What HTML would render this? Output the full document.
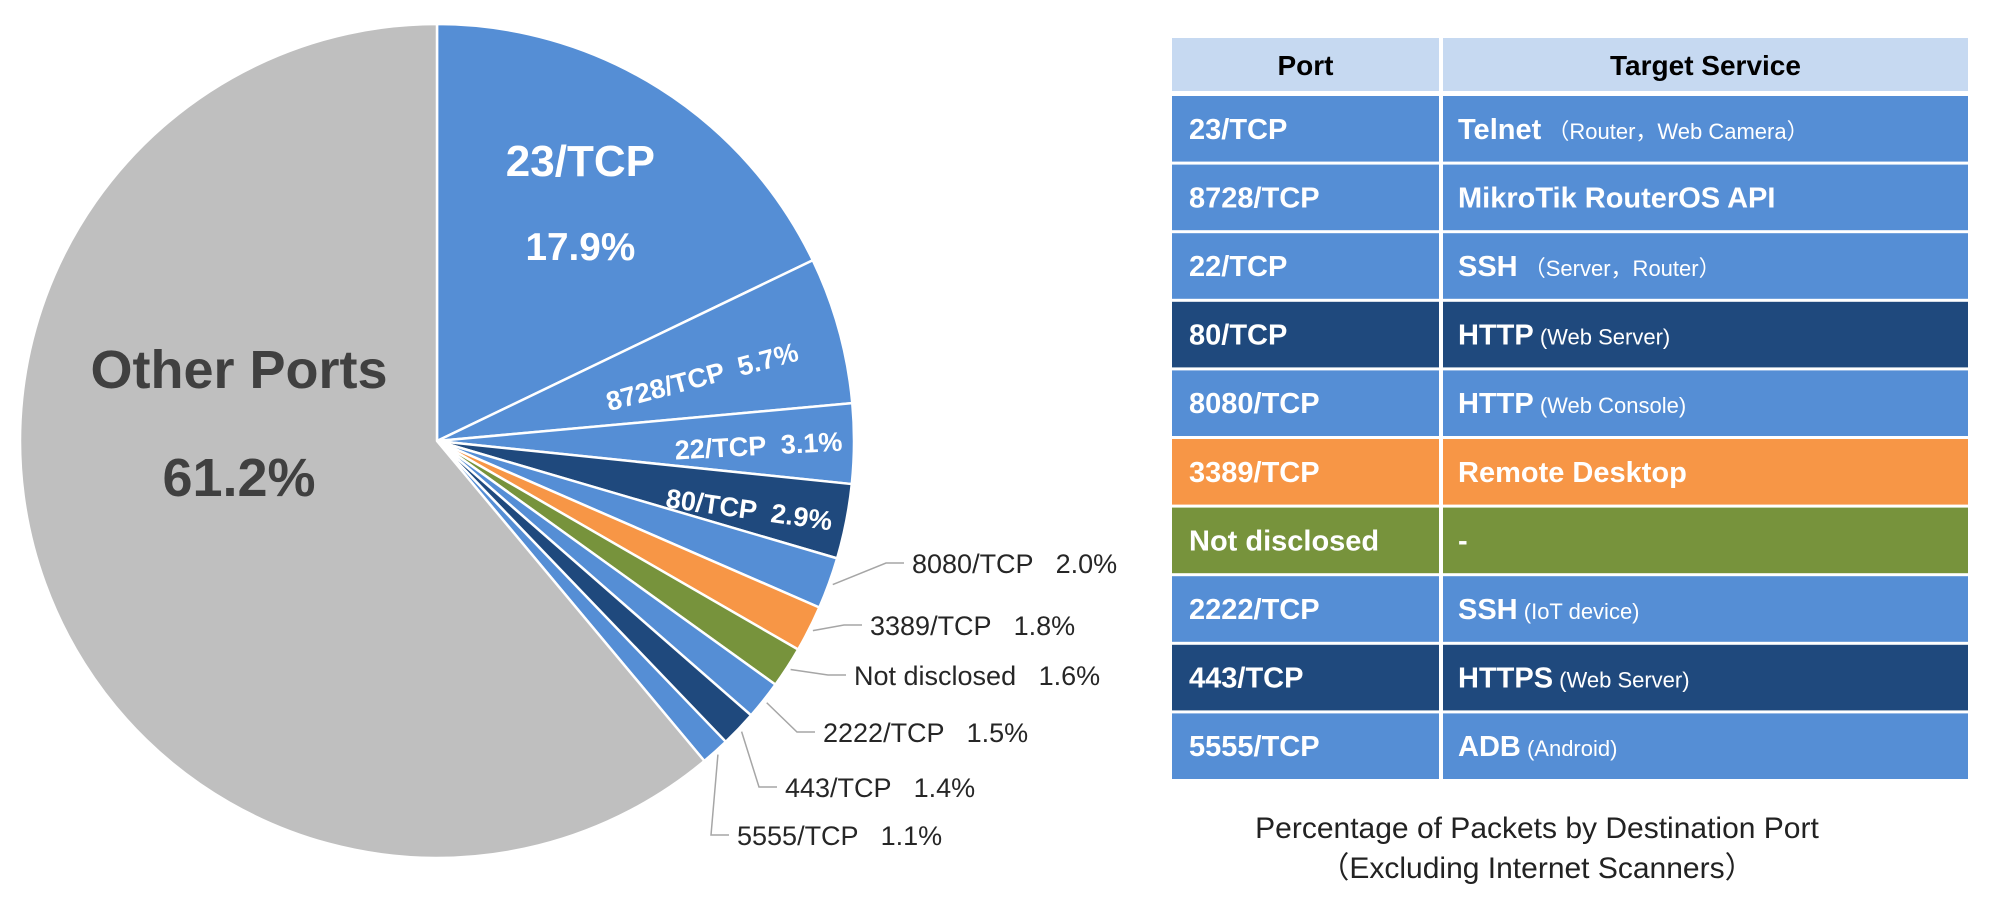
<!DOCTYPE html>
<html><head><meta charset="utf-8">
<style>
html,body{margin:0;padding:0;background:#fff;}
svg{display:block;font-family:"Liberation Sans","Noto Sans CJK JP",sans-serif;}
</style></head>
<body>
<svg id="chart" width="2000" height="909" viewBox="0 0 2000 909" xmlns="http://www.w3.org/2000/svg">
<g id="pie"></g>
<g id="labels"></g>
<g id="table"></g>
<g font-size="30" fill="#222" text-anchor="middle">
<text x="1537" y="838">Percentage of Packets by Destination Port</text>
<text x="1537" y="878">（Excluding Internet Scanners）</text>
</g>
</svg>
<script>
const categories = ["23/TCP","8728/TCP","22/TCP","80/TCP","8080/TCP","3389/TCP","Not disclosed","2222/TCP","443/TCP","5555/TCP","Other Ports"];
const values = [17.9,5.7,3.1,2.9,2.0,1.8,1.6,1.5,1.4,1.1,61.2];
const valueLabels = ["17.9%","5.7%","3.1%","2.9%","2.0%","1.8%","1.6%","1.5%","1.4%","1.1%","61.2%"];
const sliceColors = ["#558ED5","#558ED5","#558ED5","#1F497D","#558ED5","#F79646","#77933C","#558ED5","#1F497D","#558ED5","#BFBFBF"];
const servicesMain = ["Telnet","MikroTik RouterOS API","SSH","HTTP","HTTP","Remote Desktop","-","SSH","HTTPS","ADB"];
const servicesSub = ["（Router，Web Camera）","","（Server，Router）","(Web Server)","(Web Console)","","","(IoT device)","(Web Server)","(Android)"];

const NS="http://www.w3.org/2000/svg";
const cx=437, cy=441, R=417;
const total=values.reduce((a,b)=>a+b,0);
function angleOf(v){return v/total*Math.PI*2;}
function pt(a,r){return [cx+r*Math.sin(a), cy-r*Math.cos(a)];}
function mk(tag,parent){const e=document.createElementNS(NS,tag);parent.appendChild(e);return e;}

const pie=document.getElementById('pie');
const labels=document.getElementById('labels');
let acc=0;
const mids=[];
values.forEach((v,i)=>{
  const a0=acc, a1=acc+angleOf(v); acc=a1;
  mids.push((a0+a1)/2);
  const p0=pt(a0,R), p1=pt(a1,R);
  const large=(a1-a0)>Math.PI?1:0;
  const path=mk('path',pie);
  path.setAttribute('d',`M${cx},${cy} L${p0[0]},${p0[1]} A${R},${R} 0 ${large} 1 ${p1[0]},${p1[1]} Z`);
  path.setAttribute('fill',sliceColors[i]);
  path.setAttribute('stroke','#fff');
  path.setAttribute('stroke-width','2.5');
  path.setAttribute('stroke-linejoin','round');
  
  
});

function txt(parent,x,y,s,size,fill,weight,anchor,rot){
  const t=mk('text',parent);
  t.setAttribute('x',x);t.setAttribute('y',y);
  t.setAttribute('font-size',size);t.setAttribute('fill',fill);
  t.setAttribute('font-weight',weight);t.setAttribute('text-anchor',anchor||'start');
  if(rot)t.setAttribute('transform',`rotate(${rot} ${x} ${y})`);
  t.textContent=s;return t;
}
function inside(i,r,dx,dy,size,rot,two,gap){
  const p=pt(mids[i],r);
  if(two){
    const a=txt(labels,p[0]+dx,p[1]+dy,categories[i],size,'#fff','bold','middle');
    
    
    const b=txt(labels,p[0]+dx,p[1]+dy+gap,valueLabels[i],size*0.88,'#fff','bold','middle');
    
    
  } else {
    const a=txt(labels,p[0]+dx,p[1]+dy,categories[i]+'  '+valueLabels[i],size,'#fff','bold','middle',rot);
    a.setAttribute('xml:space','preserve');
    a.style.whiteSpace='pre';
    
    
  }
}
inside(0,260,5,-45,44,0,true,84);
inside(1,290,-12,22,27,-15);
inside(2,330,-8,12,27,-3);
inside(3,325,-8,15,27,8);
{
  const a=txt(labels,239,388,categories[10],54,'#404040','bold','middle');
  
  
  const b=txt(labels,239,496,valueLabels[10],54,'#404040','bold','middle');
  
  
}
const outX=[912,870,854,823,785,737];
const outY=[573,635,685,742,797,845];
for(let k=0;k<6;k++){
  const i=4+k;
  const e=pt(mids[i],R+4);
  const tx=outX[k]-8, ty=outY[k]-10;
  const ln=mk('polyline',labels);
  ln.setAttribute('points',`${e[0]},${e[1]} ${tx-18},${ty} ${tx},${ty}`);
  ln.setAttribute('fill','none');ln.setAttribute('stroke','#A6A6A6');ln.setAttribute('stroke-width','1.5');
  
  
  const t=txt(labels,outX[k],outY[k],categories[i]+'   '+valueLabels[i],27,'#262626','normal','start');
  t.setAttribute('xml:space','preserve');
  t.style.whiteSpace='pre';
  
  
}

const tbl=document.getElementById('table');
const c1x=1172,c1w=267,c2x=1443,c2w=525;
const hY=38,hH=53,rY=96,pitch=68.6,rH=65.6;
function rect(x,y,w,h,f,name){
  const r=mk('rect',tbl);r.setAttribute('x',x);r.setAttribute('y',y);r.setAttribute('width',w);r.setAttribute('height',h);r.setAttribute('fill',f);
  
  
}
rect(c1x,hY,c1w,hH,'#C6D9F1','header-port-cell');
rect(c2x,hY,c2w,hH,'#C6D9F1','header-service-cell');
let h1=txt(tbl,c1x+c1w/2,hY+37,'Port',28,'#000','bold','middle');


let h2=txt(tbl,c2x+c2w/2,hY+37,'Target Service',28,'#000','bold','middle');


for(let i=0;i<10;i++){
  const y=rY+i*pitch;
  rect(c1x,y,c1w,rH,sliceColors[i],'row-'+i+'-port-cell');
  rect(c2x,y,c2w,rH,sliceColors[i],'row-'+i+'-service-cell');
  const pt1=txt(tbl,c1x+17,y+rH/2+10,categories[i],29,'#fff','bold','start');
  
  
  const s=txt(tbl,c2x+15,y+rH/2+10,'',29,'#fff','bold','start');
  
  
  const m=mk('tspan',s);m.textContent=servicesMain[i];
  if(servicesSub[i]){const sub=mk('tspan',s);sub.setAttribute('font-size','22');sub.setAttribute('font-weight','normal');sub.textContent=' '+servicesSub[i];}
}
</script>
</body></html>
